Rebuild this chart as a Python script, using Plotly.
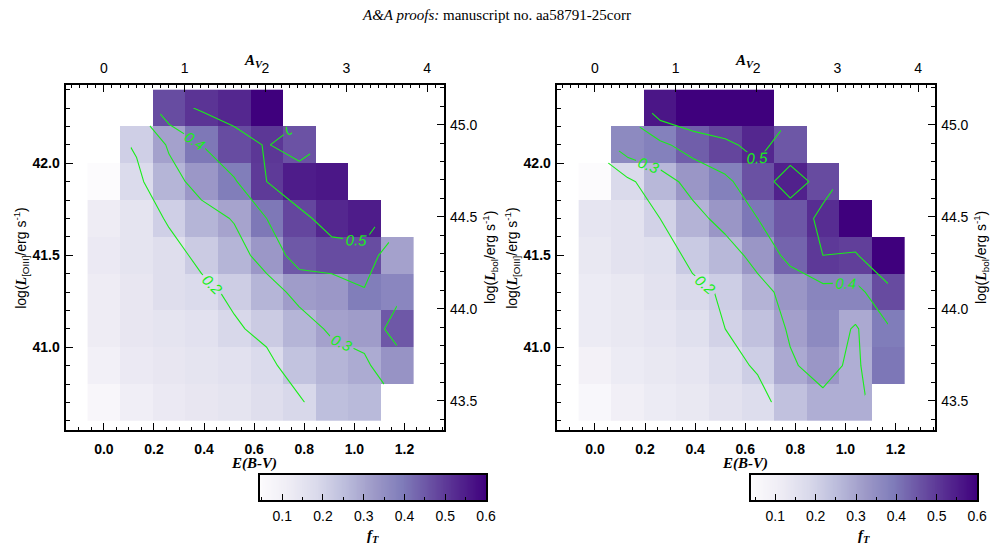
import numpy as np
import plotly.graph_objects as go
import plotly.colors as pc

# ---------------- data ----------------
ebv = [0.00, 0.13, 0.26, 0.39, 0.52, 0.65, 0.78, 0.91, 1.04, 1.17]      # E(B-V) bin centres
log_loiii = [40.7, 40.9, 41.1, 41.3, 41.5, 41.7, 41.9, 42.1, 42.3]      # log L[OIII] bin centres
N = None

# f_T, left panel (rows from low to high luminosity)
ft_left = [
    [0.07, 0.11, 0.13, 0.14, 0.15, 0.17, 0.19, 0.25, 0.26, N],
    [0.10, 0.13, 0.14, 0.15, 0.16, 0.18, 0.24, 0.27, 0.29, 0.34],
    [0.12, 0.14, 0.15, 0.16, 0.19, 0.22, 0.27, 0.31, 0.32, 0.45],
    [0.12, 0.14, 0.17, 0.18, 0.215, 0.27, 0.32, 0.33, 0.39, 0.37],
    [0.13, 0.15, 0.17, 0.22, 0.27, 0.33, 0.45, 0.47, 0.47, 0.31],
    [0.12, 0.15, 0.21, 0.27, 0.305, 0.40, 0.48, 0.53, 0.55, N],
    [0.047, 0.18, 0.27, 0.33, 0.39, 0.50, 0.55, 0.56, N, N],
    [N, 0.21, 0.31, 0.40, 0.47, 0.505, 0.46, N, N, N],
    [N, N, 0.47, 0.51, 0.53, 0.60, N, N, N, N],
]

# f_T, right panel
ft_right = [
    [0.06, 0.10, 0.12, 0.13, 0.15, 0.17, 0.24, 0.28, 0.28, N],
    [0.09, 0.12, 0.13, 0.14, 0.17, 0.21, 0.29, 0.33, 0.28, 0.40],
    [0.12, 0.13, 0.14, 0.16, 0.20, 0.24, 0.31, 0.36, 0.29, 0.39],
    [0.12, 0.13, 0.15, 0.18, 0.21, 0.27, 0.33, 0.37, 0.37, 0.47],
    [0.13, 0.15, 0.16, 0.22, 0.26, 0.33, 0.43, 0.50, 0.49, 0.60],
    [0.14, 0.15, 0.20, 0.27, 0.33, 0.40, 0.45, 0.52, 0.60, N],
    [0.041, 0.18, 0.26, 0.33, 0.38, 0.46, 0.54, 0.47, N, N],
    [N, 0.36, 0.38, 0.44, 0.48, 0.53, 0.45, N, N, N],
    [N, N, 0.56, 0.60, 0.60, 0.60, N, N, N, N],
]

contour_levels = [0.2, 0.3, 0.4, 0.5]
cbar_left = (0.0465, 0.60)
cbar_right = (0.041, 0.60)
cbar_ticks = [0.1, 0.2, 0.3, 0.4, 0.5, 0.6]

R_V = 3.1           # A_V = R_V * E(B-V)
BOL_OFFSET = 2.79   # log L_bol = log L[OIII] + offset

xr = [-0.150, 1.356]
yr = [40.5505, 42.4255]

# ---------------- styling helpers ----------------
W, H = 1002, 547
def px(x):
    return x / W
def py(y):
    return 1 - y / H

SANS = "Liberation Sans, Arial, sans-serif"
SERIF = "Liberation Serif, Times New Roman, serif"
GREEN = "#19ee19"
purples = pc.sequential.Purples

base_ax = dict(showline=True, linecolor="black", linewidth=1.5, ticks="inside",
               tickcolor="black", tickwidth=1.2, ticklen=7, showgrid=False, zeroline=False)
minor = lambda d: dict(dtick=d, ticklen=3.5, ticks="inside", tickcolor="black", tickwidth=1, showgrid=False)
bold_font = dict(family=SANS, size=14, color="black", weight="bold")
reg_font = dict(family=SANS, size=14, color="black")

fig = go.Figure()

ltitle = "log(<span style='font-family:Liberation Serif'><b><i>L</i></b></span><sub>[OIII]</sub>/erg s<sup>-1</sup>)"
rtitle = "log(<span style='font-family:Liberation Serif'><b><i>L</i></b></span><sub>bol</sub>/erg s<sup>-1</sup>)"

panels = [
    dict(z=ft_left, xa="x", ya="y", xt="x2", yt="y2", x0=67, cb=cbar_left, cbx=(263, 491), cbxa="x5", cbya="y5"),
    dict(z=ft_right, xa="x3", ya="y3", xt="x4", yt="y4", x0=563, cb=cbar_right, cbx=(759, 987), cbxa="x6", cbya="y6"),
]

annotations = []
layout_axes = {}
for i, p in enumerate(panels):
    zmin, zmax = p["cb"]
    fig.add_trace(go.Heatmap(x=ebv, y=log_loiii, z=p["z"], colorscale=purples, zmin=zmin, zmax=zmax,
                             showscale=False, hoverongaps=False, xaxis=p["xa"], yaxis=p["ya"]))
    fig.add_trace(go.Contour(x=ebv, y=log_loiii, z=p["z"], xaxis=p["xa"], yaxis=p["ya"],
                             autocontour=False,
                             contours=dict(start=contour_levels[0], end=contour_levels[-1],
                                           size=contour_levels[1] - contour_levels[0],
                                           coloring="lines", showlabels=True,
                                           labelfont=dict(family=SANS, size=15, color=GREEN, style="italic"),
                                           labelformat=".1f"),
                             colorscale=[[0, GREEN], [1, GREEN]], showscale=False,
                             line=dict(width=1.1, smoothing=0), hoverinfo="skip"))
    # dummy traces so the secondary (top/right) axes exist
    fig.add_trace(go.Scatter(x=[None], y=[None], xaxis=p["xt"], yaxis=p["yt"], showlegend=False, hoverinfo="skip"))

    x0 = p["x0"]
    dom_x = [px(x0), px(x0 + 381)]
    dom_y = [py(430), py(85)]
    n = 1 + 2 * i
    xa_name = "xaxis" if n == 1 else f"xaxis{n}"
    ya_name = "yaxis" if n == 1 else f"yaxis{n}"
    layout_axes[xa_name] = dict(base_ax, domain=dom_x, range=xr, anchor=p["ya"], tick0=0, dtick=0.2,
                                tickformat=".1f", minor=minor(0.05), tickfont=bold_font, ticklabelstandoff=5)
    layout_axes[ya_name] = dict(base_ax, domain=dom_y, range=yr, anchor=p["xa"], tick0=0, dtick=0.5,
                                tickformat=".1f", minor=minor(0.1), tickfont=bold_font, ticklabelstandoff=2)
    layout_axes[f"xaxis{n+1}"] = dict(base_ax, overlaying=p["xa"], side="top", anchor=p["ya"],
                                      range=[xr[0] * R_V, xr[1] * R_V], tick0=0, dtick=1,
                                      minor=minor(0.1), tickfont=reg_font, ticklabelstandoff=5)
    layout_axes[f"yaxis{n+1}"] = dict(base_ax, overlaying=p["ya"], side="right", anchor=p["xa"],
                                      range=[yr[0] + BOL_OFFSET, yr[1] + BOL_OFFSET], tick0=0, dtick=0.5,
                                      tickformat=".1f", minor=minor(0.1), tickfont=reg_font,
                                      ticklabelstandoff=2)

    # colour bar drawn as its own small heatmap
    cbv = list(np.linspace(zmin, zmax, 256))
    fig.add_trace(go.Heatmap(x=cbv, y=[0], z=[cbv], colorscale=purples, zmin=zmin, zmax=zmax,
                             showscale=False, hoverinfo="skip", xaxis=p["cbxa"], yaxis=p["cbya"]))
    cx0, cx1 = p["cbx"]
    k = 5 + i
    layout_axes[f"xaxis{k}"] = dict(base_ax, domain=[px(cx0), px(cx1)], range=[zmin, zmax], anchor=p["cbya"],
                                    tickvals=cbar_ticks, tickformat=".1f", ticklen=6, mirror=True,
                                    minor=dict(minor(0.05), tick0=0), tickfont=reg_font, ticklabelstandoff=2)
    layout_axes[f"yaxis{k}"] = dict(domain=[py(500), py(475)], range=[-0.5, 0.5], anchor=p["cbxa"],
                                    showline=True, linecolor="black", linewidth=1.5, mirror=True,
                                    ticks="", showticklabels=False, showgrid=False, zeroline=False)

    # titles
    annotations += [
        dict(text="<b><i>A<sub>V</sub></i></b>", x=px(x0 + 189), y=py(61), font=dict(family=SERIF, size=15)),
        dict(text="<b><i>E(B-V)</i></b>", x=px(x0 + 190), y=py(463), font=dict(family=SERIF, size=15)),
        dict(text=ltitle, x=px(x0 - 46), y=py(258), textangle=-90, font=dict(family=SANS, size=14)),
        dict(text=rtitle, x=px(x0 + 428), y=py(258), textangle=-90, font=dict(family=SANS, size=14)),
        dict(text="<b><i>f<sub>T</sub></i></b>", x=px((cx0 + cx1) / 2), y=py(536), font=dict(family=SERIF, size=15)),
    ]

annotations.append(dict(text="<i>A&amp;A proofs:</i> manuscript no. aa58791-25corr", x=0.5, y=py(15),
                        font=dict(family=SERIF, size=15)))
for a in annotations:
    a.update(xref="paper", yref="paper", showarrow=False, xanchor="center", yanchor="middle")
    a["font"].setdefault("color", "black")

fig.update_layout(width=W, height=H, margin=dict(l=0, r=0, t=0, b=0), plot_bgcolor="white",
                  paper_bgcolor="white", showlegend=False, annotations=annotations, **layout_axes)

fig.write_html("out.html")
